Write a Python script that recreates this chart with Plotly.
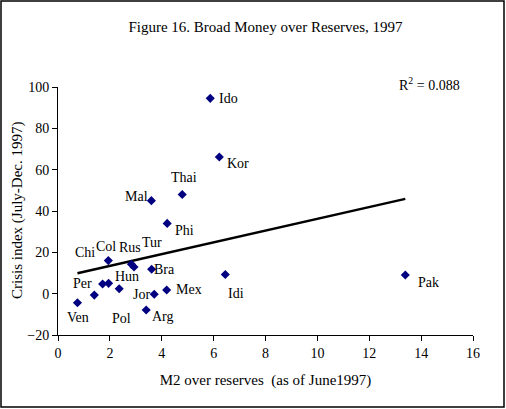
import numpy as np
import plotly.graph_objects as go

# M2 / reserves (x) against crisis index (y), 1997
countries = ["Ven", "Per", "Chi", "Hun", "Col", "Pol", "Rus", "Tur", "Bra", "Jor",
             "Mex", "Arg", "Idi", "Pak", "Mal", "Thai", "Phi", "Kor", "Ido"]
m2_reserves = [0.75, 1.40, 1.72, 1.95, 1.94, 2.36, 2.83, 2.93, 3.61, 3.71,
               4.19, 3.40, 6.45, 13.39, 3.60, 4.79, 4.21, 6.22, 5.87]
crisis_index = [-4.4, -0.7, 4.7, 5.0, 16.0, 2.4, 14.2, 12.9, 11.8, -0.3,
                1.8, -7.9, 9.3, 9.0, 45.0, 48.0, 34.0, 66.1, 94.5]
r2_text = "R<sup>2</sup> = 0.088"

# label offsets in px (dx right, dy down) - placed by hand like in excel
label_dx = [1, -12, -18, 18, -2, 2, -1, 18, 13, -13, 22, 17, 11, 23, -15, 2, 17, 19, 18]
label_dy = [15, -12, -31, -7, -14, 30, -17, -25, 0, 0, 0, 7, 19, 7, -4, -17, 7, 6, 0]

W, H = 506, 409
ml, mr, mt, mb = 58, 33, 87, 74
font = "Liberation Serif"
pw, ph = W - ml - mr, H - mt - mb

slope, icpt = np.polyfit(m2_reserves, crisis_index, 1)
xfit = np.array([min(m2_reserves), max(m2_reserves)])

fig = go.Figure()
fig.add_trace(go.Scatter(x=xfit, y=slope * xfit + icpt, mode="lines",
                         line=dict(color="black", width=2.5), hoverinfo="skip"))
fig.add_trace(go.Scatter(x=m2_reserves, y=crisis_index, mode="markers",
                         marker=dict(symbol="diamond", size=7, color="#000080"),
                         text=countries))

for c, x, y, dx, dy in zip(countries, m2_reserves, crisis_index, label_dx, label_dy):
    fig.add_annotation(x=x, y=y, text=c, showarrow=False, xshift=dx, yshift=-dy,
                       font=dict(family=font, size=14, color="black"))

fig.add_annotation(xref="paper", yref="paper", x=(397 - ml) / pw,
                   y=1 + 3 / ph, xanchor="left", yanchor="middle",
                   text=r2_text, showarrow=False,
                   font=dict(family=font, size=14, color="black"))

# y title as annotation, axis title sits too far out without automargin
fig.add_annotation(xref="paper", yref="paper", x=(17 - ml) / pw, y=0.5,
                   xanchor="center", yanchor="middle", textangle=-90,
                   text="Crisis index (July-Dec. 1997)", showarrow=False,
                   font=dict(family=font, size=15, color="black"))

# outer frame around whole picture
fig.add_shape(type="rect", xref="paper", yref="paper",
              x0=-(ml - 1) / pw, x1=1 + (mr - 2) / pw,
              y0=-(mb - 2) / ph, y1=1 + (mt - 1) / ph,
              line=dict(color="black", width=1.5))

axis_common = dict(showgrid=False, zeroline=False, showline=True, linecolor="black",
                   linewidth=1, ticks="outside", ticklen=5, tickcolor="black",
                   automargin=False,
                   tickfont=dict(family=font, size=14, color="black"))

fig.update_layout(
    width=W, height=H,
    margin=dict(l=ml, r=mr, t=mt, b=mb, autoexpand=False),
    paper_bgcolor="white", plot_bgcolor="white",
    showlegend=False,
    title=dict(text="Figure 16. Broad Money over Reserves, 1997", x=0.5, xref="paper",
               xanchor="center", y=1 - 27 / H, yanchor="middle",
               font=dict(family=font, size=15, color="black")),
    xaxis=dict(range=[0, 16], dtick=2, tick0=0,
               title=dict(text="M2 over reserves  (as of June1997)", standoff=14,
                          font=dict(family=font, size=15, color="black")),
               **axis_common),
    yaxis=dict(range=[-20, 100], dtick=20, tick0=0, **axis_common),
)

# page has a default body margin, drop it so the figure sits at 0,0
fig.write_html("out.html", config={"displayModeBar": False},
               post_script="document.body.style.margin='0';")
